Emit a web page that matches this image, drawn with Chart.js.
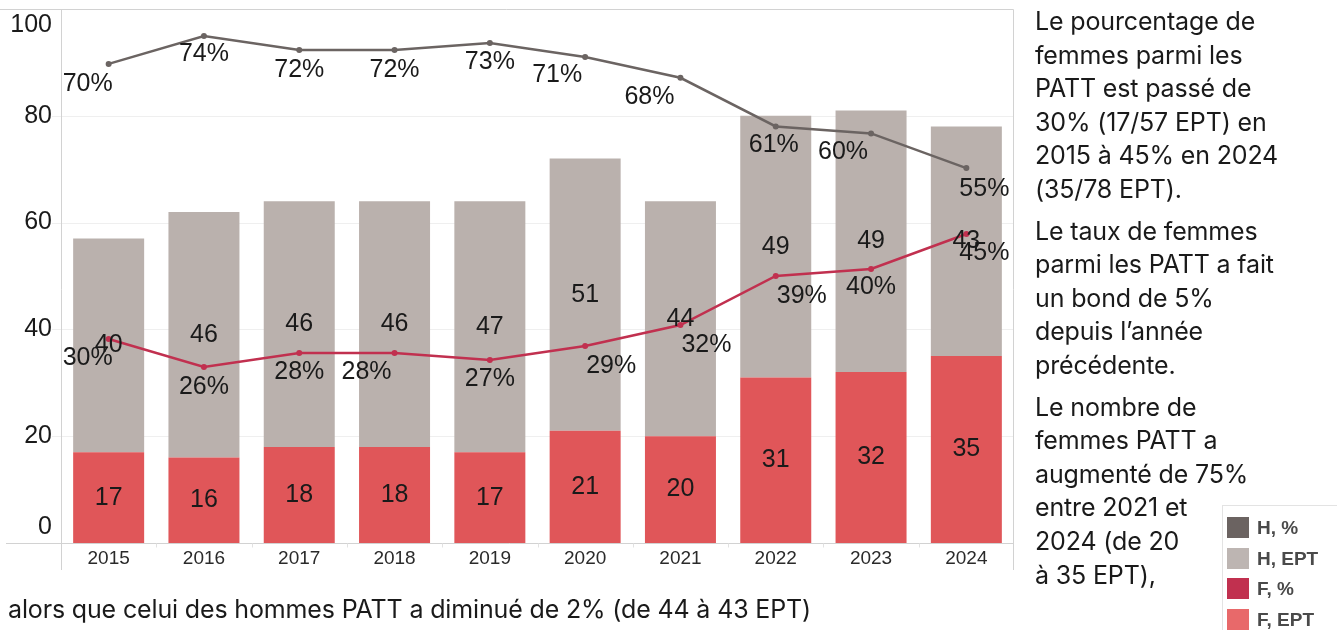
<!DOCTYPE html>
<html><head><meta charset="utf-8">
<script src="https://cdn.jsdelivr.net/npm/chart.js@4.4.1/dist/chart.umd.min.js"></script>
<style>
html,body{margin:0;padding:0;background:#fff;width:1337px;height:630px;overflow:hidden;}
#c{position:absolute;left:0;top:0;}
.side{position:absolute;left:1035px;top:5px;width:300px;font-family:Inter,"Noto Sans",sans-serif;font-size:25px;line-height:33.6px;color:#1a1a1a;letter-spacing:-0.15px;}
.side p{margin:0 0 8px 0;}
.bottom{position:absolute;left:8px;top:594px;font-family:Inter,"Noto Sans",sans-serif;font-size:25px;line-height:30px;color:#1a1a1a;letter-spacing:-0.15px;white-space:nowrap;}
#legend{position:absolute;left:1222px;top:505px;width:115px;height:125px;border-top:1px solid #e3e3e3;border-left:1px solid #e3e3e3;}
.li{position:absolute;left:4px;height:22px;font-family:"Liberation Sans",Arial,sans-serif;font-weight:bold;font-size:19px;color:#4a4a4a;white-space:nowrap;}
.li span{display:inline-block;width:22px;height:21px;vertical-align:top;margin-right:8px;}
.li b{position:relative;top:0px;line-height:22px;}
</style></head><body>
<canvas id="c" width="1337" height="630"></canvas>
<div class="side">
<p>Le pourcentage de<br>femmes parmi les<br>PATT est passé de<br>30% (17/57 EPT) en<br>2015 à 45% en 2024<br>(35/78 EPT).</p>
<p>Le taux de femmes<br>parmi les PATT a fait<br>un bond de 5%<br>depuis l’année<br>précédente.</p>
<p>Le nombre de<br>femmes PATT a<br>augmenté de 75%<br>entre 2021 et<br>2024 (de 20<br>à 35 EPT),</p>
</div>
<div class="bottom">alors que celui des hommes PATT a diminué de 2% (de 44 à 43 EPT)</div>
<div id="legend"></div>
<script>
const years = ['2015','2016','2017','2018','2019','2020','2021','2022','2023','2024'];
const fEPT = [17,16,18,18,17,21,20,31,32,35];
const hEPT = [40,46,46,46,47,51,44,49,49,43];
const hPct = [70,74,72,72,73,71,68,61,60,55];
const fPct = [30,26,28,28,27,29,32,39,40,45];
const yTicks = [0,20,40,60,80,100];
const legendNames = ['H, %','H, EPT','F, %','F, EPT'];

// label placement offsets (px) relative to line points
const hPctLabelShift = [[-21,20],[0,18],[0,20],[0,20],[0,19],[-28,18],[-31,19],[-2,19],[-28,19],[18,21]];
const fPctLabelShift = [[-21,19],[0,20],[0,19],[-28,19],[0,19],[26,20],[26,20],[26,20],[0,18],[18,19]];

const COL = {hPct:'#6b6462', hEPT:'#bab1ad', fPct:'#c1304f', fEPT:'#e05659'};
const legendCols = ['#6b6361','#bdb5b2','#c1304f','#e8696a'];

const lg = document.getElementById('legend');
legendNames.forEach((n,i)=>{
  const d=document.createElement('div'); d.className='li'; d.style.top=(11+i*30.5)+'px';
  d.innerHTML='<span style="background:'+legendCols[i]+'"></span><b>'+n+'</b>';
  lg.appendChild(d);
});

const LBL_FONT = '25px "Liberation Sans", Arial, sans-serif';
const LINE = '#d2d2d2';

const framePlugin = {
  id:'frame',
  beforeDatasetsDraw(chart){
    const {ctx, chartArea:a, scales} = chart;
    const y = scales.y;
    ctx.save();
    ctx.lineWidth = 1;
    ctx.strokeStyle = '#efefef';
    yTicks.forEach(v=>{
      if (v===0 || v===100) return;
      const py = Math.round(y.getPixelForValue(v))+0.5;
      ctx.beginPath(); ctx.moveTo(a.left-9, py); ctx.lineTo(a.right, py); ctx.stroke();
    });
    ctx.restore();
  },
  afterDraw(chart){
    const {ctx, chartArea:a, scales} = chart;
    const x = scales.x, y = scales.y;
    ctx.save();
    ctx.lineWidth = 1;
    ctx.strokeStyle = LINE;
    const L = Math.round(a.left)+0.5, R = Math.round(a.right)-0.5, T = Math.round(a.top)+0.5, B = Math.round(a.bottom)+0.5;
    ctx.beginPath();
    ctx.moveTo(0, T); ctx.lineTo(R, T);
    ctx.moveTo(L, T); ctx.lineTo(L, 570);
    ctx.moveTo(R, T); ctx.lineTo(R, 570);
    ctx.moveTo(6, B); ctx.lineTo(R, B);
    ctx.stroke();
    ctx.strokeStyle = '#e2e2e2';
    for (let i=1;i<years.length;i++){
      const px = Math.round((x.getPixelForValue(i-1)+x.getPixelForValue(i))/2)+0.5;
      ctx.beginPath(); ctx.moveTo(px,B); ctx.lineTo(px,B+4); ctx.stroke();
    }
    // y tick labels
    ctx.fillStyle = '#1a1a1a';
    ctx.font = LBL_FONT;
    ctx.textAlign = 'right';
    ctx.textBaseline = 'middle';
    yTicks.forEach(v=>{
      let py = y.getPixelForValue(v);
      py = Math.min(Math.max(py, a.top+16), a.bottom-16);
      ctx.fillText(String(v), 52, py);
    });
    ctx.restore();
  },
  afterDatasetsDraw(chart){
    const {ctx} = chart;
    ctx.save();
    ctx.font = LBL_FONT;
    ctx.fillStyle = '#1a1a1a';
    ctx.textAlign = 'center';
    ctx.textBaseline = 'middle';
    chart.data.datasets.forEach((ds,di)=>{
      const meta = chart.getDatasetMeta(di);
      meta.data.forEach((el,i)=>{
        const v = ds.data[i];
        if (ds.type==='bar'){
          ctx.fillText(String(v), el.x, (el.y+el.base)/2);
        } else {
          const sh = ds.key==='hPct' ? hPctLabelShift[i] : fPctLabelShift[i];
          ctx.fillText(v+'%', el.x+sh[0], el.y+sh[1]);
        }
      });
    });
    ctx.restore();
  }
};

new Chart(document.getElementById('c'), {
  type:'bar',
  data:{
    labels: years,
    datasets:[
      {type:'bar', key:'fEPT', label:legendNames[3], data:fEPT, backgroundColor:COL.fEPT, stack:'s', order:2, categoryPercentage:1, barPercentage:0.745},
      {type:'bar', key:'hEPT', label:legendNames[1], data:hEPT, backgroundColor:COL.hEPT, stack:'s', order:2, categoryPercentage:1, barPercentage:0.745},
      {type:'line', key:'hPct', label:legendNames[0], data:hPct, yAxisID:'yH', borderColor:COL.hPct, backgroundColor:COL.hPct, borderWidth:2.5, pointRadius:3, pointHoverRadius:3, pointBorderWidth:0, tension:0, order:1},
      {type:'line', key:'fPct', label:legendNames[2], data:fPct, yAxisID:'yF', borderColor:COL.fPct, backgroundColor:COL.fPct, borderWidth:2.5, pointRadius:3, pointHoverRadius:3, pointBorderWidth:0, tension:0, order:1}
    ]
  },
  options:{
    responsive:false, animation:false, devicePixelRatio:1,
    layout:{padding:{left:0, top:9, right:323, bottom:57}},
    plugins:{legend:{display:false}, tooltip:{enabled:false}},
    scales:{
      x:{stacked:true, grid:{display:false}, border:{display:false},
         ticks:{color:'#2a2a2a', font:{family:'"Liberation Sans", Arial, sans-serif', size:19}, padding:-4, maxRotation:0},
         afterFit(s){ s.height = 30; }},
      y:{stacked:true, min:0, max:100, grid:{display:false}, border:{display:false},
         ticks:{display:false}, afterFit(s){ s.width = 61; }},
      yH:{display:false, min:1.05, max:77.9},
      yF:{display:false, min:0.86, max:77.14}
    }
  },
  plugins:[framePlugin]
});
</script>
</body></html>
